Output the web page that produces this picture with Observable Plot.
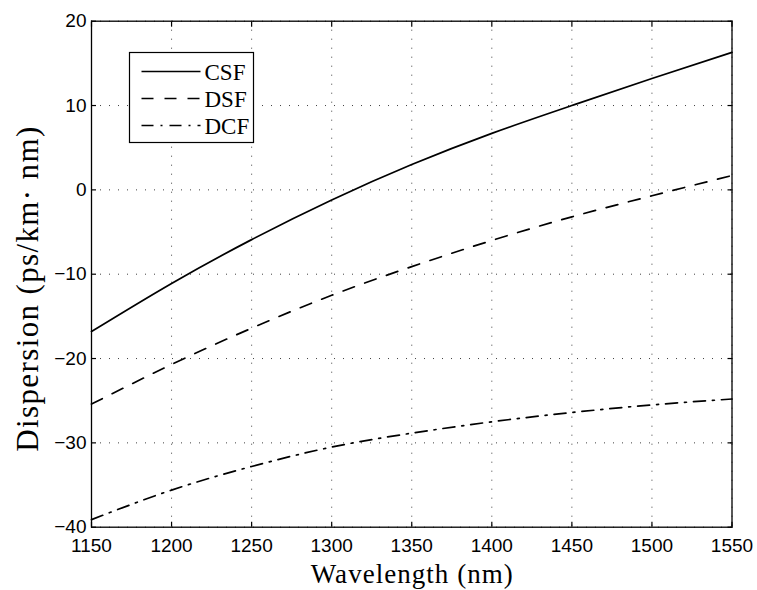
<!DOCTYPE html>
<html><head><meta charset="utf-8">
<script src="https://cdn.jsdelivr.net/npm/d3@7"></script>
<script src="https://cdn.jsdelivr.net/npm/@observablehq/plot@0.6"></script>
<style>body{margin:0;background:#fff} svg{display:block}</style>
</head><body><div id="chart"></div>
<script>
const wavelengths = [1150, 1200, 1250, 1300, 1350, 1400, 1450, 1500, 1550];
const csf = [-16.8, -11.1, -5.9, -1.2, 3.0, 6.7, 10.0, 13.2, 16.3];
const dsf = [-25.4, -20.7, -16.4, -12.5, -9.1, -6.0, -3.2, -0.7, 1.7];
const dcf = [-39.1, -35.6, -32.8, -30.5, -28.85, -27.5, -26.4, -25.5, -24.8];
const seriesNames = ["CSF", "DSF", "DCF"];
const xTicks = [1150, 1200, 1250, 1300, 1350, 1400, 1450, 1500, 1550];
const yTicks = [-40, -30, -20, -10, 0, 10, 20];
const xLabel = "Wavelength (nm)";
const yLabel = "Dispersion (ps/km\u00b7 nm)";

const dashArrays = {CSF: null, DSF: "12,11", DCF: "12,7,2,7"};
const seriesValues = {CSF: csf, DSF: dsf, DCF: dcf};
const rows = seriesNames.flatMap(s => wavelengths.map((w, i) => ({series: s, x: w, y: seriesValues[s][i]})));

const W = 757, H = 590;
const mL = 91, mR = 25.5, mT = 20.7, mB = 63.3;

const serif = "'Liberation Serif', 'Times New Roman', serif";
const sans = "'Liberation Sans', Arial, Helvetica, sans-serif";

const chart = Plot.plot({
  width: W, height: H,
  marginLeft: mL, marginRight: mR, marginTop: mT, marginBottom: mB,
  style: {fontFamily: sans, fontSize: "19px", color: "#000", background: "#fff", overflow: "visible"},
  x: {domain: [1150, 1550], ticks: xTicks},
  y: {domain: [-40, 20], ticks: yTicks},
  marks: [
    Plot.gridX(xTicks, {stroke: "#000", strokeOpacity: 0.75, strokeWidth: 1, strokeDasharray: "1,8"}),
    Plot.gridY(yTicks, {stroke: "#000", strokeOpacity: 0.75, strokeWidth: 1, strokeDasharray: "1,8"}),
    ...seriesNames.map(s => Plot.line(rows.filter(d => d.series === s), {
      x: "x", y: "y", curve: "natural", stroke: "#000", strokeWidth: 1.7,
      strokeDasharray: dashArrays[s]
    })),
    Plot.axisX(xTicks, {anchor: "bottom", tickSize: 0, tickPadding: 11, label: null, tickFormat: d => String(d)}),
    Plot.axisY(yTicks, {anchor: "left", tickSize: 0, tickPadding: 5, label: null}),
    Plot.axisX(xTicks, {anchor: "bottom", tickSize: -5, text: null, label: null, strokeWidth: 1.2}),
    Plot.axisX(xTicks, {anchor: "top", tickSize: -5, text: null, label: null, strokeWidth: 1.2}),
    Plot.axisY(yTicks, {anchor: "left", tickSize: -5, text: null, label: null, strokeWidth: 1.2}),
    Plot.axisY(yTicks, {anchor: "right", tickSize: -5, text: null, label: null, strokeWidth: 1.2}),
    Plot.frame({stroke: "#000", strokeWidth: 1.3}),
    Plot.text([xLabel], {frameAnchor: "bottom", textAnchor: "middle", lineAnchor: "bottom", dy: 56,
      fontFamily: serif, fontSize: 27, fill: "#000", className: "xlabel"}),
    Plot.text([yLabel], {frameAnchor: "left", textAnchor: "middle", lineAnchor: "middle", dx: -63, dy: 15, rotate: -90,
      fontFamily: serif, fontSize: 31, fill: "#000", className: "ylabel"})
  ]
});
document.getElementById("chart").appendChild(chart);

const svg = d3.select(chart);
// widen serif labels to the Computer Modern widths of the reference
svg.selectAll("g.xlabel text").attr("textLength", 202).attr("lengthAdjust", "spacing");
svg.selectAll("g.ylabel text").attr("textLength", 325).attr("lengthAdjust", "spacing");

// Legend box (MATLAB style)
const lg = svg.append("g").attr("class", "legend");
const bx = 129.5, by = 52.5, bw = 124, bh = 90;
lg.append("rect").attr("x", bx).attr("y", by).attr("width", bw).attr("height", bh)
  .attr("fill", "#fff").attr("stroke", "#000").attr("stroke-width", 1.2);
seriesNames.forEach((s, i) => {
  const yy = by + 19 + i * 27;
  lg.append("line").attr("x1", bx + 12).attr("x2", bx + 71).attr("y1", yy).attr("y2", yy)
    .attr("stroke", "#000").attr("stroke-width", 1.7)
    .attr("stroke-dasharray", dashArrays[s]);
  lg.append("text").attr("x", bx + 75).attr("y", yy).attr("dy", "0.35em")
    .attr("text-anchor", "start")
    .attr("font-family", serif).attr("font-size", 23).attr("fill", "#000").text(s);
});
</script>
</body></html>
